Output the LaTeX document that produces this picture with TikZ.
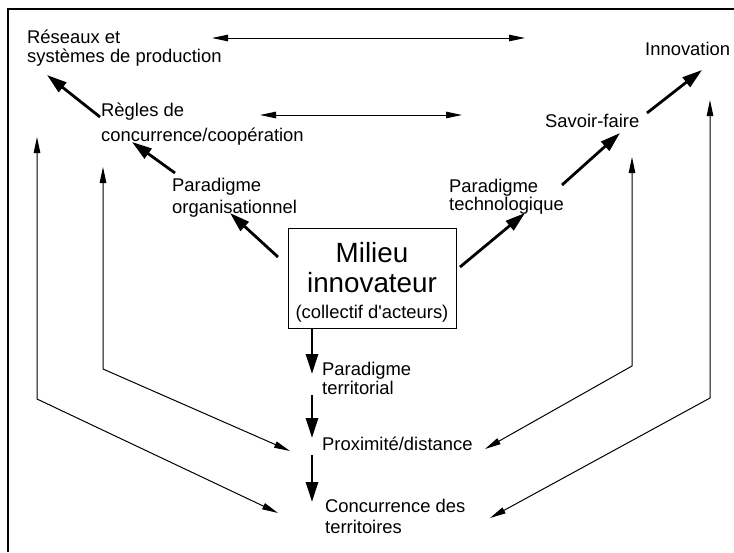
\documentclass[tikz,border=0pt]{standalone}
\usepackage{fontspec}
\setmainfont{Liberation Sans}
\usetikzlibrary{arrows.meta}
\begin{document}
\begin{tikzpicture}[x=1pt,y=-1pt,
  lbl/.style={font=\fontsize{18.4}{20}\selectfont, inner sep=0pt, align=left, anchor=base west},
  bigarrow/.style={-{Triangle[length=20pt,width=12pt]}, line width=2.8pt},
  thinarrow/.style={{Triangle[length=16pt,width=6.5pt]}-{Triangle[length=16pt,width=6.5pt]}, line width=1pt},
  framebox/.style={line width=2pt},
  milieubox/.style={draw, line width=1pt, minimum width=168pt, minimum height=100pt, inner sep=0pt}]
\useasboundingbox (0,0) rectangle (734,552);
\draw[framebox] (8,552) -- (8,9) -- (734,9);

% labels (anchor = baseline of last line)
\node[lbl] (reseaux) at (27,62) {Réseaux et\\[-1pt]systèmes de production};
\node[lbl] (regles) at (101,141) {Règles de\\[5pt]concurrence/coopération};
\node[lbl] (porg) at (172,213) {Paradigme\\[2pt]organisationnel};
\node[lbl] (innov) at (645,55) {Innovation};
\node[lbl] (savoir) at (545,127) {Savoir-faire};
\node[lbl] (ptech) at (449,210) {Paradigme\\[-2pt]technologique};
\node[lbl] (pterr) at (322,394) {Paradigme\\[-1pt]territorial};
\node[lbl] (prox) at (322,450) {Proximité/distance};
\node[lbl] (conc) at (325,533) {Concurrence des\\[1pt]territoires};

\node[milieubox] (milieu) at (372,278) {};
\node[inner sep=0pt, align=center, anchor=base, font=\fontsize{27.8}{30}\selectfont] (milieutxt) at (372,318)
  {Milieu\\innovateur\\[-4pt]{\fontsize{18.4}{20}\selectfont (collectif d\textquotesingle acteurs)}};

% coordinates
\coordinate (a1s) at (100,117); \coordinate (a1e) at (47,75);
\coordinate (a2s) at (175,173); \coordinate (a2e) at (132,142);
\coordinate (a3s) at (278,257); \coordinate (a3e) at (230,213);
\coordinate (a4s) at (460,267); \coordinate (a4e) at (525,213);
\coordinate (a5s) at (562,185); \coordinate (a5e) at (620,133);
\coordinate (a6s) at (647,113); \coordinate (a6e) at (702,70);
\coordinate (v1s) at (312,328); \coordinate (v1e) at (312,374);
\coordinate (v2s) at (312,395); \coordinate (v2e) at (312,438);
\coordinate (v3s) at (312,455); \coordinate (v3e) at (312,502);

\draw[bigarrow] (a1s) -- (a1e);
\draw[bigarrow] (a2s) -- (a2e);
\draw[bigarrow] (a3s) -- (a3e);
\draw[bigarrow] (a4s) -- (a4e);
\draw[bigarrow] (a5s) -- (a5e);
\draw[bigarrow] (a6s) -- (a6e);
\draw[bigarrow] (v1s) -- (v1e);
\draw[bigarrow] (v2s) -- (v2e);
\draw[bigarrow] (v3s) -- (v3e);

% thin double arrows
\coordinate (h1l) at (212,38); \coordinate (h1r) at (525,38);
\coordinate (h2l) at (260,115); \coordinate (h2r) at (462,115);
\draw[thinarrow] (h1l) -- (h1r);
\draw[thinarrow] (h2l) -- (h2r);

\coordinate (l1t) at (37,137); \coordinate (l1c) at (37,399); \coordinate (l1e) at (278,513);
\coordinate (l2t) at (103,167); \coordinate (l2c) at (103,369); \coordinate (l2e) at (290,451);
\coordinate (r1t) at (632,157); \coordinate (r1c) at (632,366); \coordinate (r1e) at (485,449);
\coordinate (r2t) at (710,100); \coordinate (r2c) at (710,398); \coordinate (r2e) at (490,518);
\draw[thinarrow] (l1t) -- (l1c) -- (l1e);
\draw[thinarrow] (l2t) -- (l2c) -- (l2e);
\draw[thinarrow] (r1t) -- (r1c) -- (r1e);
\draw[thinarrow] (r2t) -- (r2c) -- (r2e);
\end{tikzpicture}
\end{document}
